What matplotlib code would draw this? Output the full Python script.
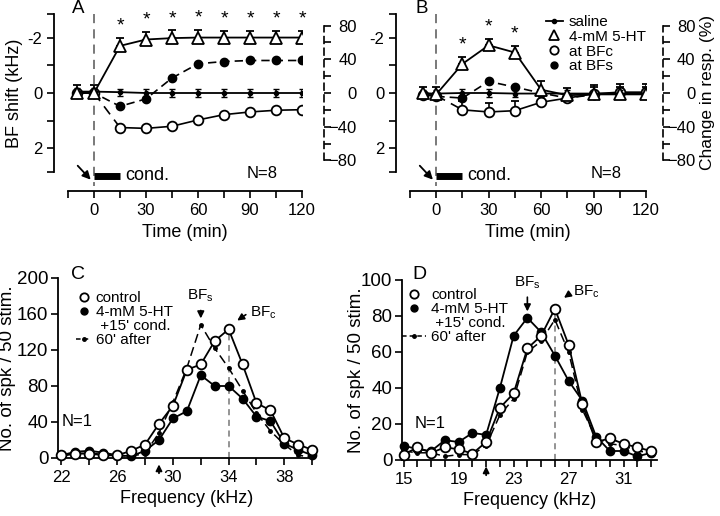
import numpy as np
import matplotlib.pyplot as plt
from matplotlib.lines import Line2D
from matplotlib.ticker import FixedLocator

plt.rcParams['font.family'] = ['Liberation Sans', 'DejaVu Sans']
plt.rcParams['mathtext.fontset'] = 'custom'
plt.rcParams['mathtext.rm'] = 'Liberation Sans'

# ---- panel A: BF shift (kHz, left) and change in response (%, right)
tA = [-10, 0, 15, 30, 45, 60, 75, 90, 105, 120]
salA = [-0.05, -0.05, -0.03, 0.0, 0.0, 0.0, 0.0, 0.0, 0.0, 0.0]
salA_err = [0.13, 0.13, 0.13, 0.13, 0.13, 0.13, 0.13, 0.13, 0.13, 0.13]
htA = [0.0, 0.0, -1.7, -1.93, -1.98, -2.0, -2.0, -2.0, -2.0, -2.0]
htA_err = [0.3, 0.3, 0.28, 0.28, 0.28, 0.28, 0.25, 0.25, 0.25, 0.25]
bfcA = [0, 0, -41, -42, -39.5, -32, -25.7, -22.5, -20.5, -19.8]
bfsA = [0, 0, -15.8, -7, 17.8, 34.7, 37.4, 38.6, 38.6, 38.6]
sigA = [15, 30, 45, 60, 75, 90, 105, 120]

# ---- panel B
tB = [-7.5, 0, 15, 30, 45, 60, 75, 90, 105, 120]
salB = [0.02, 0.02, 0.0, 0.0, 0.02, 0.02, 0.02, 0.02, 0.02, 0.02]
salB_err = [0.13, 0.13, 0.15, 0.15, 0.13, 0.13, 0.13, 0.13, 0.13, 0.13]
htB = [0.0, 0.05, -1.05, -1.72, -1.46, -0.12, 0.08, 0.05, 0.05, 0.05]
htB_err = [0.22, 0.27, 0.26, 0.24, 0.24, 0.3, 0.26, 0.27, 0.26, 0.27]
bfcB = [-2, -3, -20, -22.5, -21, -11, -6, -1, 1, 1]
bfcB_err = [0, 0, 10, 11, 11, 0, 0, 10, 10, 10]
bfsB = [-2, -4, -6, 13.7, 7, 0, -6, -2, 0, 0]
sigB = [15, 30, 45]

# ---- panel C: tuning curves
fC = list(range(22, 41))
ctlC = [3, 5, 5, 3, 3, 8, 15, 38, 58, 98, 104, 130, 143, 104, 61, 53, 22, 15, 9]
htC = [3, 7, 8, 6, 3, 2, 8, 20, 44, 52, 92, 80, 80, 66, 46, 41, 16, 9, 3]
aftC = [2, 5, 5, 5, 3, 2, 5, 28, 62, 100, 148, 122, 100, 75, 50, 30, 15, 3, 1]

# ---- panel D
fD = list(range(15, 34))
ctlD = [3, 7, 4, 7, 6, 3.5, 10, 29, 37, 62, 69, 84, 64, 31, 10, 12, 9, 7, 5]
htD = [8, 6, 5, 11, 10, 15, 14, 40, 69, 79, 71, 58, 44, 33, 13, 5, 5, 2, 4]
aftD = [5, 4, 4, 2, 3, 3, 8, 25, 34, 60, 66, 78, 60, 28, 12, 9, 8, 5, 4]

fig = plt.figure(figsize=(7.2, 5.16), dpi=100)
W, H = 720.0, 516.0


def rect(x0, y0, x1, y1):
    return [x0 / W, 1 - y1 / H, (x1 - x0) / W, (y1 - y0) / H]


def time_panel(r, t, sal, sal_err, ht, ht_err, bfc, bfc_err, bfs, sig,
               letter, letter_xy, right_off, right_label):
    ax = fig.add_axes(r)
    ax2 = ax.twinx()
    ax.set_zorder(ax2.get_zorder() + 1)
    ax.patch.set_visible(False)

    ax.set_xlim(-15, 120)
    ax.set_ylim(2.85, -2.85)
    for s in ['top', 'right']:
        ax.spines[s].set_visible(False)
    ax.spines['left'].set_position(('outward', 10))
    ax.spines['bottom'].set_position(('outward', 14))
    for s in ['left', 'bottom']:
        ax.spines[s].set_linewidth(1.3)
    ax.set_xticks([0, 30, 60, 90, 120])
    ax.xaxis.set_minor_locator(FixedLocator([-15, 15, 45, 75, 105]))
    ax.set_yticks([-2, 0, 2])
    ax.set_yticklabels(['-2', '0', '2'])
    ax.yaxis.set_minor_locator(FixedLocator([-2.85, -1, 1, 2.85]))
    ax.tick_params(which='both', direction='out', length=5, width=1.2,
                   labelsize=12)
    ax.set_xlabel('Time (min)', fontsize=13, labelpad=4)

    # right axis (% change), labels right-aligned
    ax2.set_ylim(-93.8, 93.8)
    for s in ['top', 'left', 'bottom']:
        ax2.spines[s].set_visible(False)
    ax2.spines['right'].set_position(('outward', right_off))
    ax2.spines['right'].set_linestyle((0, (4, 3)))
    ax2.spines['right'].set_linewidth(1.2)
    ax2.spines['right'].set_bounds(-80, 80)
    ax2.set_yticks([-80, -40, 0, 40, 80])
    ax2.yaxis.set_minor_locator(FixedLocator([-60, -20, 20, 60]))
    ax2.tick_params(which='both', direction='out', length=5, width=1.2,
                    labelsize=12, pad=18.5)
    for lab in ax2.get_yticklabels():
        lab.set_horizontalalignment('right')
    if right_label:
        ax2.set_ylabel('Change in resp. (%)', fontsize=12.5)
        ax2.yaxis.set_label_coords(1.23, 0.5)

    # % change curves (right axis)
    ax2.plot(t, bfs, ls=(0, (5, 3)), color='k', lw=1.2, marker='o', ms=6,
             mfc='k', mec='k')
    ax2.plot(t[:2], bfc[:2], color='k', lw=1.2)
    ax2.plot(t[1:3], bfc[1:3], ls=(0, (6, 4)), color='k', lw=1.2)
    ax2.plot(t[2:], bfc[2:], color='k', lw=1.2)
    ax2.errorbar(t, bfc, yerr=[np.zeros(len(bfc_err)), bfc_err], fmt='o',
                 ms=7, mfc='white', mec='k', mew=1.3, ecolor='k',
                 elinewidth=1.2, capsize=3)

    # BF shift curves (left axis, drawn above)
    ax.plot(t, sal, color='k', lw=1.3)
    ax.errorbar(t, sal, yerr=sal_err, fmt='o', ms=3, color='k',
                elinewidth=1.2, capsize=2.5)
    ax.errorbar(t, ht, yerr=[ht_err, np.zeros(len(ht_err))], fmt='-^',
                ms=8, mfc='white', mec='k', mew=1.3, color='k', lw=1.3,
                elinewidth=1.2, capsize=3)
    for ts in sig:
        i = t.index(ts)
        ax.text(ts, ht[i] - ht_err[i] - 0.12, '*', ha='center', va='bottom',
                fontsize=14)

    # conditioning marker and arrow
    ax.plot([0, 0], [-2.85, 3.35], ls=(0, (6, 4)), color='#555555', lw=1.1,
            clip_on=False)
    ax.plot([0, 15], [2.98, 2.98], color='k', lw=5, solid_capstyle='butt',
            clip_on=False)
    ax.text(18, 2.98, 'cond.', fontsize=13, va='center', ha='left')
    ax.text(97, 2.9, 'N=8', fontsize=12, va='center', ha='center')
    ax.annotate('', xy=(-0.8, 3.2), xytext=(-10.5, 2.55),
                arrowprops=dict(arrowstyle='-|>', color='k', lw=1.3,
                                mutation_scale=12),
                annotation_clip=False)
    ax.text(letter_xy[0], letter_xy[1], letter, fontsize=13.5, ha='center',
            va='center', transform=ax.transAxes)
    return ax


axA = time_panel(rect(68, 14, 302, 172), tA, salA, salA_err, htA,
                 htA_err, bfcA, [0] * 10, bfsA, sigA, 'A', (0.043, 1.035),
                 16, False)
axA.set_ylabel('BF shift (kHz)', fontsize=13, labelpad=3)
axB = time_panel(rect(410, 14, 646, 172), tB, salB, salB_err, htB,
                 htB_err, bfcB, bfcB_err, bfsB, sigB, 'B', (0.05, 1.035),
                 12, True)

handles = [Line2D([], [], color='k', lw=1.3, marker='o', ms=3),
           Line2D([], [], ls='none', marker='^', ms=7, mfc='white',
                  mec='k', mew=1.3),
           Line2D([], [], ls='none', marker='o', ms=6, mfc='white',
                  mec='k', mew=1.3),
           Line2D([], [], ls='none', marker='o', ms=5, color='k')]
fig.legend(handles, ['saline', '4-mM 5-HT', 'at BFc', 'at BFs'],
           loc='upper left', bbox_to_anchor=(546 / W, 1 - 15 / H),
           frameon=False, fontsize=11, handlelength=1.1, handletextpad=0.4,
           labelspacing=0.05, borderaxespad=0, borderpad=0)


def tuning_panel(r, f, ctl, ht, aft, xlim, ylim, xt, xminor, yt, bfs,
                 letter, letter_xy, nxy, bfs_txt, bfc_arrow, bfc_txt, up_x,
                 leg_xy, ylab_x, hlen):
    ax = fig.add_axes(r)
    ax.set_xlim(*xlim)
    ax.set_ylim(*ylim)
    for s in ['top', 'right']:
        ax.spines[s].set_visible(False)
    for s in ['left', 'bottom']:
        ax.spines[s].set_linewidth(1.3)
    ax.set_xticks(xt)
    ax.xaxis.set_minor_locator(FixedLocator(xminor))
    ax.set_yticks(yt)
    ax.tick_params(which='both', direction='out', length=5, width=1.2)
    ax.tick_params(axis='x', labelsize=12)
    ax.tick_params(axis='y', labelsize=13.5, pad=2)
    ax.set_xlabel('Frequency (kHz)', fontsize=13, labelpad=4)
    ax.set_ylabel('No. of spk / 50 stim.', fontsize=13.5)
    ax.yaxis.set_label_coords(ylab_x, 0.5)

    i = ctl.index(max(ctl))
    ax.plot([f[i], f[i]], [0, ctl[i]], ls=(0, (4, 3)), color='#777777',
            lw=1.1, zorder=1)
    ax.plot(f, aft, color='k', lw=1.1, ls=(0, (6, 3)), marker='o', ms=2.5,
            zorder=2)
    ax.plot(f, ht, color='k', lw=1.3, marker='o', ms=6, zorder=3,
            clip_on=False)
    ax.plot(f, ctl, color='k', lw=1.3, marker='o', ms=7, mfc='white',
            mec='k', mew=1.3, zorder=4, clip_on=False)

    ytop = ylim[1]
    k = f.index(bfs)
    ax.annotate('', xy=(bfs, max(ht[k], aft[k]) + 0.02 * ytop),
                xytext=(bfs, bfs_txt), arrowprops=dict(
                    arrowstyle='-|>', color='k', lw=1.2, mutation_scale=10))
    ax.text(bfs, bfs_txt + 0.02 * ytop, 'BF$_\\mathrm{s}$', ha='center',
            va='bottom', fontsize=11)
    ax.annotate('', xy=bfc_arrow[1], xytext=bfc_arrow[0],
                arrowprops=dict(arrowstyle='-|>', color='k', lw=1.2,
                                mutation_scale=10))
    ax.text(bfc_txt[0], bfc_txt[1], 'BF$_\\mathrm{c}$', ha='left',
            va='center', fontsize=11)
    ax.annotate('', xy=(up_x, -0.02 * ytop), xytext=(up_x, -0.1 * ytop),
                arrowprops=dict(arrowstyle='-|>', color='k', lw=1.3,
                                mutation_scale=9),
                annotation_clip=False)
    ax.text(nxy[0], nxy[1], 'N=1', fontsize=12, ha='center', va='center')
    ax.text(letter_xy[0], letter_xy[1], letter, fontsize=14, ha='center',
            va='center', transform=ax.transAxes)

    hs = [Line2D([], [], ls='none', marker='o', ms=6, mfc='white', mec='k',
                 mew=1.3),
          Line2D([], [], ls='none', marker='o', ms=5, color='k'),
          Line2D([], [], ls='none'),
          Line2D([], [], color='k', lw=1.1, ls=(0, (3, 2)), marker='o',
                 ms=2.5)]
    fig.legend(hs, ['control', '4-mM 5-HT', " +15' cond.", "60' after"],
               loc='upper left', bbox_to_anchor=leg_xy, frameon=False,
               fontsize=11, handlelength=hlen, handletextpad=0.3,
               labelspacing=0.0, borderaxespad=0, borderpad=0)
    return ax


tuning_panel(rect(58, 278, 315, 458), fC, ctlC, htC, aftC, (21.75, 40.2),
             (0, 200), [22, 26, 30, 34, 38], list(range(24, 41, 2)),
             [0, 40, 80, 120, 160, 200], 32, 'C', (0.078, 1.02),
             (23.1, 41), 167, ((35.4, 161), (34.45, 151)), (35.5, 161), 29,
             (76 / W, 1 - 291 / H), -0.165, 1.0)
tuning_panel(rect(402, 280, 657, 460), fD, ctlD, htD, aftD, (14.88, 33.43),
             (0, 100), [15, 19, 23, 27, 31], list(range(16, 34)),
             [0, 20, 40, 60, 80, 100], 24, 'D', (0.067, 1.03),
             (16.9, 20.4), 92, ((27.2, 93), (26.5, 89.2)), (27.35, 93.5),
             21, (402 / W, 1 - 288 / H), -0.145, 1.6)

fig.savefig('out.png', dpi=100)
